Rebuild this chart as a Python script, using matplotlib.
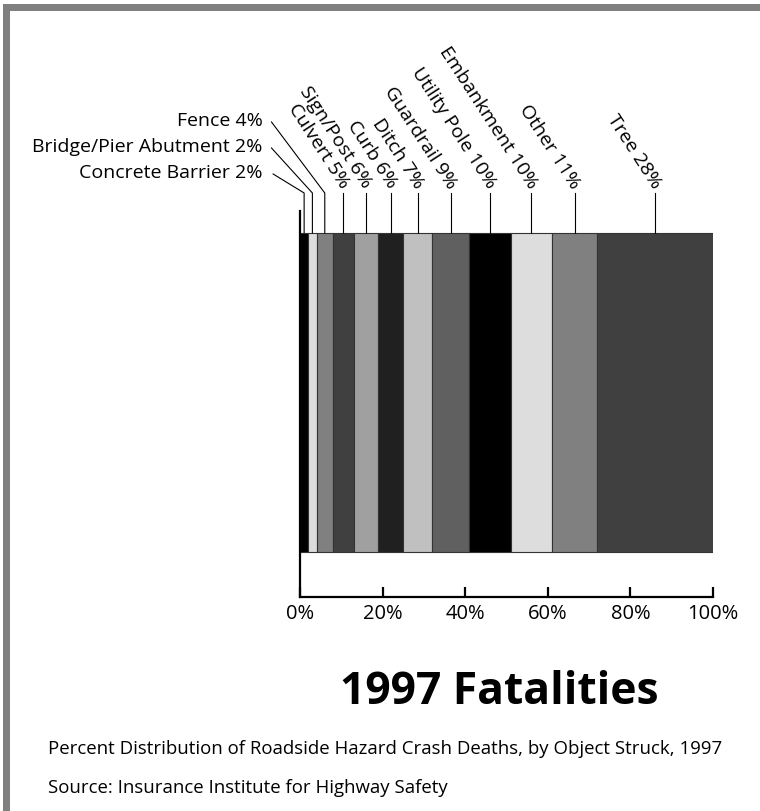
import matplotlib
matplotlib.use("Agg")
import matplotlib.pyplot as plt
import numpy as np
from matplotlib.patches import Rectangle

plt.rcParams['font.family'] = ['Open Sans', 'DejaVu Sans']

# data
objects = ["Concrete Barrier", "Bridge/Pier Abutment", "Fence", "Culvert", "Sign/Post",
           "Curb", "Ditch", "Guardrail", "Utility Pole", "Embankment", "Other", "Tree"]
percents = [2, 2, 4, 5, 6, 6, 7, 9, 10, 10, 11, 28]
greys = ["#000000", "#dddddd", "#808080", "#404040", "#a0a0a0", "#202020",
         "#c0c0c0", "#606060", "#000000", "#dddddd", "#808080", "#404040"]
xticks = [0, 20, 40, 60, 80, 100]

W, H = 760, 811
fig = plt.figure(figsize=(W / 100, H / 100), dpi=100)

# frame: grey band on the top and left edge
fig.patches.append(Rectangle((3 / W, 0), 7 / W, 1 - 4 / H, transform=fig.transFigure,
                             facecolor="#808080", edgecolor="none"))
fig.patches.append(Rectangle((3 / W, 1 - 11 / H), 1, 7 / H, transform=fig.transFigure,
                             facecolor="#808080", edgecolor="none"))

# axes box in pixels: x 300..713, y 211..597 (from top)
ax = fig.add_axes([300 / W, 1 - 597 / H, 413 / W, 386 / H])
ax.set_xlim(0, 100)
ax.set_ylim(0, 1)
px = 1 / 386  # one pixel in y data units

bar_y0 = (597 - 552) * px
bar_h = (552 - 233) * px
left = np.concatenate([[0], np.cumsum(percents)[:-1]])
ax.barh(bar_y0, percents, left=left, height=bar_h, align="edge",
        color=greys, edgecolor="#333333", linewidth=0.8)

for s in ["top", "right"]:
    ax.spines[s].set_visible(False)
ax.spines["left"].set_linewidth(1.6)
ax.spines["bottom"].set_linewidth(1.6)
ax.set_yticks([])
ax.set_xticks(xticks)
ax.set_xticklabels([f"{t}%" for t in xticks], fontsize=14.5)
ax.tick_params(axis="x", direction="in", length=7, width=1.6, pad=5)

bar_top = bar_y0 + bar_h
line_top = (597 - 193) * px
centers = left + np.array(percents) / 2

# the three small slices get labels on the left
left_label_y = [(597 - 173) * px, (597 - 147) * px, (597 - 121) * px]
diag_end_x = [-6.5, -6.9, -6.9]
label_x = -9.0
for i in range(3):
    c = centers[i]
    ax.plot([c, c, diag_end_x[i]], [bar_top, line_top, left_label_y[i] - 1 * px],
            color="black", lw=0.8, clip_on=False)
    ax.text(label_x, left_label_y[i], f"{objects[i]} {percents[i]}%", fontsize=14,
            ha="right", va="center")

for i in range(3, len(objects)):
    c = centers[i]
    ax.plot([c, c], [bar_top, line_top], color="black", lw=0.8, clip_on=False)
    ax.text(c + 0.4, line_top + 6 * px, f"{objects[i]} {percents[i]}%", fontsize=14,
            rotation=-57, rotation_mode="anchor", ha="right", va="center")

fig.text(499 / W, 1 - 693 / H, "1997 Fatalities", fontsize=32, fontweight="bold",
         ha="center", va="center")
fig.text(48 / W, 1 - 749 / H,
         "Percent Distribution of Roadside Hazard Crash Deaths, by Object Struck, 1997",
         fontsize=13.4, ha="left", va="center")
fig.text(48 / W, 1 - 788 / H, "Source: Insurance Institute for Highway Safety",
         fontsize=13.4, ha="left", va="center")

fig.savefig("out.png", dpi=100)
